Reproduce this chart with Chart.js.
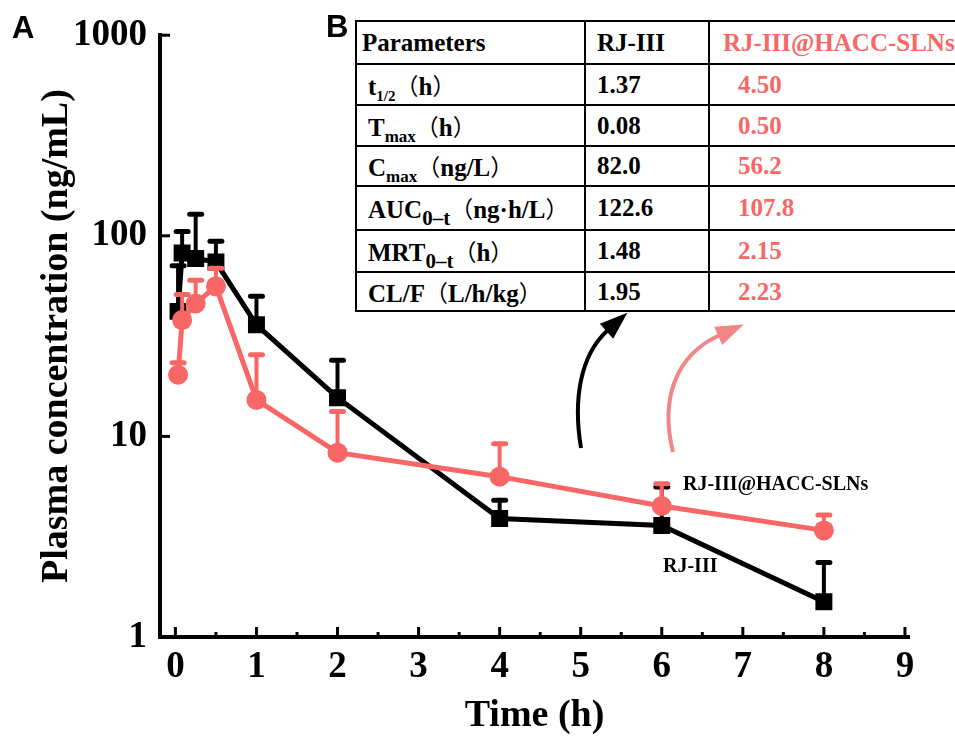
<!DOCTYPE html>
<html>
<head>
<meta charset="utf-8">
<script src="https://cdn.jsdelivr.net/npm/chart.js@4.4.0/dist/chart.umd.min.js"></script>
<style>
  body { margin: 0; background: #fff; overflow: hidden; }
  #wrap { position: relative; width: 955px; height: 737px; overflow: hidden; }
  #pk { position: absolute; left: 0; top: 0; }
  table.params {
    position: absolute; left: 355px; top: 20px; width: 633px;
    border-collapse: collapse; table-layout: fixed; background: #fff;
    font: bold 25px "Liberation Serif", "Times New Roman", serif;
    color: #000;
  }
  table.params td { border: 2px solid #000; padding: 0 0 0 11px; white-space: nowrap; overflow: hidden; }
  table.params tr.head td.first { padding-left: 5px; }
  table.params td.red { color: #f76767; padding-left: 28px; }
  table.params tr.head td.red { padding-left: 13px; }
  .sub { font-size: 15px; position: relative; top: 6px; }
  .sub2 { font-size: 21px; position: relative; top: 7px; }
  .cjk { font-family: "Noto Sans CJK SC", sans-serif; font-weight: normal; font-size: 23px; }
</style>
</head>
<body>
<div id="wrap">
  <canvas id="pk" width="955" height="737"></canvas>
  <table class="params">
    <colgroup><col style="width:229px"><col style="width:124px"><col style="width:280px"></colgroup>
    <tr class="head" style="height:43px"><td class="first">Parameters</td><td>RJ-III</td><td class="red">RJ-III@HACC-SLNs</td></tr>
    <tr style="height:41px"><td>t<span class="sub">1/2</span><span class="cjk">（</span>h<span class="cjk">）</span></td><td>1.37</td><td class="red">4.50</td></tr>
    <tr style="height:41px"><td>T<span class="sub" style="font-size:17px">max</span><span class="cjk">（</span>h<span class="cjk">）</span></td><td>0.08</td><td class="red">0.50</td></tr>
    <tr style="height:40px"><td>C<span class="sub" style="font-size:17px">max</span><span class="cjk">（</span>ng/L<span class="cjk">）</span></td><td>82.0</td><td class="red">56.2</td></tr>
    <tr style="height:44px"><td>AUC<span class="sub2">0–t</span><span class="cjk">（</span>ng·h/L<span class="cjk">）</span></td><td>122.6</td><td class="red">107.8</td></tr>
    <tr style="height:42px"><td>MRT<span class="sub2">0–t</span><span class="cjk">（</span>h<span class="cjk">）</span></td><td>1.48</td><td class="red">2.15</td></tr>
    <tr style="height:39px"><td>CL/F<span class="cjk">（</span>L/h/kg<span class="cjk">）</span></td><td>1.95</td><td class="red">2.23</td></tr>
  </table>
</div>
<script>
// sampling times (h)
const timePoints = [0.033, 0.083, 0.25, 0.5, 1, 2, 4, 6, 8];

// RJ-III (black squares), mean and SD, ng/mL
const rjMean = [42, 82, 77, 74, 36, 15.6, 3.9, 3.6, 1.5];
const rjSD   = [29, 23, 51, 20, 14, 8.4, 0.9, 2.0, 0.85];

// RJ-III@HACC-SLNs (red circles)
const slnMean = [20.3, 38, 46, 56, 15.2, 8.3, 6.3, 4.5, 3.4];
const slnSD   = [3, 13, 14, 13, 10.3, 5.0, 2.9, 1.3, 0.66];

const xTicks = [0, 1, 2, 3, 4, 5, 6, 7, 8, 9];
const xMinorTicks = [0.5, 1.5, 2.5, 3.5, 4.5, 5.5, 6.5, 7.5, 8.5];
const yTicks = [1, 10, 100, 1000];

const RED = '#f96666';
const SERIF = '"Liberation Serif", "Times New Roman", serif';

function toPoints(means) {
  return timePoints.map((t, i) => ({ x: t, y: means[i] }));
}

// upper error bars with caps, drawn right after their own dataset
const errorBars = {
  id: 'errorBars',
  afterDatasetDraw(chart, args) {
    const ds = chart.data.datasets[args.index];
    if (!ds.sd) return;
    const ctx = chart.ctx;
    const y = chart.scales.y;
    ctx.save();
    ctx.strokeStyle = ds.borderColor;
    ctx.lineCap = 'round';
    args.meta.data.forEach((pt, i) => {
      const top = y.getPixelForValue(ds.data[i].y + ds.sd[i]);
      ctx.lineWidth = 4;
      ctx.beginPath();
      ctx.moveTo(pt.x, pt.y);
      ctx.lineTo(pt.x, top);
      ctx.stroke();
      ctx.lineWidth = 5;
      ctx.beginPath();
      ctx.moveTo(pt.x - 6, top);
      ctx.lineTo(pt.x + 6, top);
      ctx.stroke();
    });
    ctx.restore();
  }
};

// ticks pointing into the plot, plus the panel decorations
const extras = {
  id: 'extras',
  afterDraw(chart) {
    const { ctx, chartArea: a, scales: { x, y } } = chart;
    ctx.save();
    ctx.strokeStyle = '#000';
    ctx.lineWidth = 3;
    const seg = (x1, y1, x2, y2) => { ctx.beginPath(); ctx.moveTo(x1, y1); ctx.lineTo(x2, y2); ctx.stroke(); };
    yTicks.forEach(v => { const py = y.getPixelForValue(v); seg(a.left, py, a.left + 10, py); });
    xTicks.forEach(v => { const px = x.getPixelForValue(v); seg(px, a.bottom, px, a.bottom - 10); });
    xMinorTicks.forEach(v => { const px = x.getPixelForValue(v); seg(px, a.bottom, px, a.bottom - 5); });

    // curved arrows pointing at the table
    drawArrow(ctx, [581, 448, 573, 400, 580, 355, 608, 330], '#000');
    drawArrow(ctx, [673, 452, 660, 400, 675, 355, 720, 335], '#f28585');

    // series labels
    ctx.fillStyle = '#000';
    ctx.textBaseline = 'alphabetic';
    ctx.font = 'bold 20px ' + SERIF;
    ctx.fillText('RJ-III@HACC-SLNs', 683, 490);
    ctx.fillText('RJ-III', 663, 572);

    // panel letters
    ctx.font = 'bold 31px "Liberation Sans", Arial, sans-serif';
    ctx.fillText('A', 12, 38);
    ctx.fillText('B', 326, 37);
    ctx.restore();
  }
};

function drawArrow(ctx, p, color) {
  ctx.save();
  ctx.strokeStyle = color;
  ctx.fillStyle = color;
  ctx.lineWidth = 4;
  ctx.beginPath();
  ctx.moveTo(p[0], p[1]);
  ctx.bezierCurveTo(p[2], p[3], p[4], p[5], p[6], p[7]);
  ctx.stroke();
  let dx = p[6] - p[4], dy = p[7] - p[5];
  const len = Math.hypot(dx, dy);
  dx /= len; dy /= len;
  const tipX = p[6] + dx * 26, tipY = p[7] + dy * 26;
  const bx = p[6] - dx * 2, by = p[7] - dy * 2;
  ctx.beginPath();
  ctx.moveTo(tipX, tipY);
  ctx.lineTo(bx - dy * 10, by + dx * 10);
  ctx.lineTo(bx + dy * 10, by - dx * 10);
  ctx.closePath();
  ctx.fill();
  ctx.restore();
}

new Chart(document.getElementById('pk'), {
  type: 'scatter',
  data: {
    datasets: [
      {
        label: 'RJ-III@HACC-SLNs',
        data: toPoints(slnMean),
        sd: slnSD,
        showLine: true,
        borderColor: RED,
        backgroundColor: RED,
        borderWidth: 5,
        pointStyle: 'circle',
        pointRadius: 10,
        pointBorderWidth: 0,
        pointHoverRadius: 10
      },
      {
        label: 'RJ-III',
        data: toPoints(rjMean),
        sd: rjSD,
        showLine: true,
        borderColor: '#000',
        backgroundColor: '#000',
        borderWidth: 5,
        pointStyle: 'rect',
        pointRadius: 12,
        pointBorderWidth: 0,
        pointHoverRadius: 12
      }
    ]
  },
  options: {
    responsive: false,
    animation: false,
    devicePixelRatio: 1,
    layout: { padding: { left: 30, top: 30, right: 46, bottom: 0 } },
    plugins: { legend: { display: false }, tooltip: { enabled: false } },
    scales: {
      x: {
        type: 'linear',
        min: -0.19,
        max: 9.05,
        afterBuildTicks: s => { s.ticks = xTicks.map(v => ({ value: v })); },
        afterFit: s => { s.height = 100; },
        grid: { display: true, drawOnChartArea: false, drawTicks: false },
        border: { display: true, color: '#000', width: 4 },
        ticks: { color: '#000', padding: 8, font: { family: SERIF, size: 37, weight: 'bold' } },
        title: {
          display: true, text: 'Time (h)', color: '#000',
          padding: { top: 0, bottom: 0 },
          font: { family: SERIF, size: 38, weight: 'bold', lineHeight: 1.1 }
        }
      },
      y: {
        type: 'logarithmic',
        min: 1,
        max: 1000,
        afterBuildTicks: s => { s.ticks = yTicks.map(v => ({ value: v })); },
        afterFit: s => { s.width = 130; },
        grid: { display: true, drawOnChartArea: false, drawTicks: false },
        border: { display: true, color: '#000', width: 4 },
        ticks: {
          color: '#000', padding: 13,
          callback: v => String(v),
          font: { family: SERIF, size: 37, weight: 'bold' }
        },
        title: {
          display: true, text: 'Plasma concentration (ng/mL)', color: '#000',
          padding: { top: 4, bottom: 0 },
          font: { family: SERIF, size: 38, weight: 'bold' }
        }
      }
    }
  },
  plugins: [errorBars, extras]
});
</script>
</body>
</html>
